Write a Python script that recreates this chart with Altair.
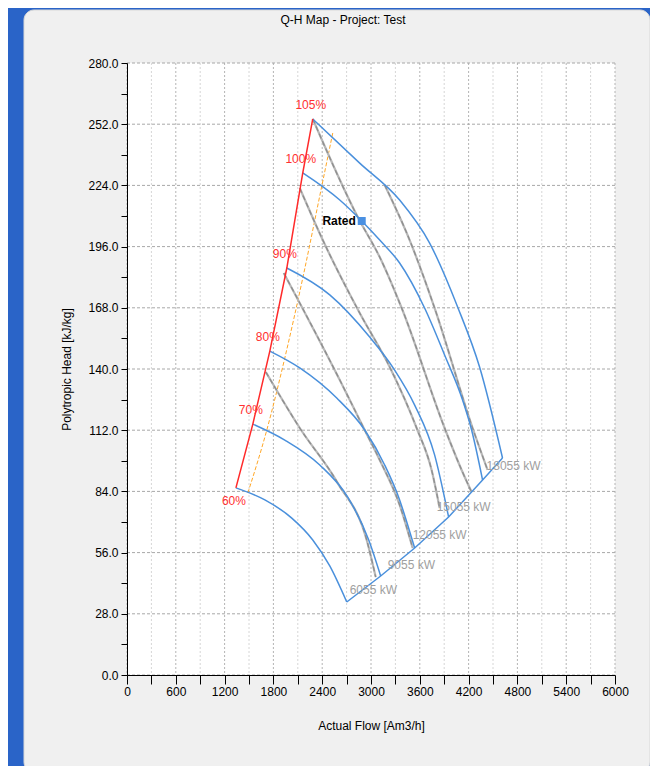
import altair as alt
import pandas as pd

# ---------------- data (flow Am3/h, polytropic head kJ/kg) ----------------
speed_names = ["60%", "70%", "80%", "90%", "100%", "105%"]
flow_60 = [1339, 1695, 2026, 2284, 2493, 2702]
head_60 = [85.6, 80.1, 71.8, 61.8, 49.9, 33.4]
flow_70 = [1547, 1940, 2370, 2714, 2972, 3119]
head_70 = [114.8, 107.5, 96.1, 81.4, 61.8, 45.3]
flow_80 = [1756, 2124, 2579, 2923, 3168, 3352, 3451, 3537]
head_80 = [148.2, 140.5, 126.7, 112.1, 96.1, 80.1, 68.6, 58.1]
flow_90 = [1965, 2493, 2984, 3291, 3537, 3782, 3954]
head_90 = [186.2, 173.9, 154.6, 139.5, 123.5, 100.7, 72.3]
flow_100 = [2161, 2616, 2886, 3107, 3352, 3659, 3905, 4126, 4237, 4372]
head_100 = [229.7, 217.3, 207.7, 199.0, 188.5, 167.9, 146.4, 125.8, 112.1, 89.2]
flow_105 = [2284, 2861, 3352, 3721, 4065, 4335, 4617]
head_105 = [254.4, 234.2, 217.3, 197.6, 168.4, 140.9, 99.3]

ctrl_flow = [1486, 1719, 1940, 2161, 2395, 2530]
ctrl_head = [83.3, 112.1, 145.0, 181.6, 223.7, 248.0]

gray_a_flow = [1707, 2124, 2591, 2947, 3058]
gray_a_head = [138.6, 113.0, 87.8, 61.8, 44.8]
gray_b_flow = [1928, 2616, 2910, 3107, 3352, 3512]
gray_b_head = [183.9, 135.0, 113.0, 98.4, 77.8, 58.1]
gray_c_flow = [2124, 2407, 2861, 3230, 3561, 3745, 3844]
gray_c_head = [222.8, 199.0, 165.6, 140.9, 113.0, 93.8, 76.4]
gray_d_flow = [2284, 2837, 3107, 3377, 3905, 4114, 4237]
gray_d_head = [254.4, 209.5, 191.2, 167.9, 113.0, 93.8, 83.7]
gray_e_flow = [3168, 3475, 3782, 4249, 4433]
gray_e_head = [224.2, 199.0, 167.9, 113.0, 93.8]

power_labels = ["6055 kW", "9055 kW", "12055 kW", "15055 kW", "18055 kW"]
power_label_flow = [2738, 3205, 3512, 3807, 4421]
power_label_head = [38.9, 50.3, 64.1, 76.9, 95.6]

rated_flow = [2886]
rated_head = [207.7]

x_ticks = list(range(0, 6001, 300))
y_ticks = [v * 14 for v in range(0, 21)]

FONT = "Liberation Sans, Arial, sans-serif"

# ---------------- tables ----------------
speed_flows = [flow_60, flow_70, flow_80, flow_90, flow_100, flow_105]
speed_heads = [head_60, head_70, head_80, head_90, head_100, head_105]
rows = []
for name, fl, hd in zip(speed_names, speed_flows, speed_heads):
    for i, (f, h) in enumerate(zip(fl, hd)):
        rows.append({"speed": name, "i": i, "flow": f, "head": h})
speed_df = pd.DataFrame(rows)

surge_df = pd.DataFrame({"flow": [f[0] for f in speed_flows],
                         "head": [h[0] for h in speed_heads],
                         "label": speed_names,
                         "i": range(len(speed_names))})
choke_df = pd.DataFrame({"flow": [f[-1] for f in speed_flows],
                         "head": [h[-1] for h in speed_heads],
                         "i": range(len(speed_names))})
ctrl_df = pd.DataFrame({"flow": ctrl_flow, "head": ctrl_head, "i": range(len(ctrl_flow))})

grows = []
for name, fl, hd in [("a", gray_a_flow, gray_a_head), ("b", gray_b_flow, gray_b_head),
                     ("c", gray_c_flow, gray_c_head), ("d", gray_d_flow, gray_d_head),
                     ("e", gray_e_flow, gray_e_head)]:
    for i, (f, h) in enumerate(zip(fl, hd)):
        grows.append({"line": name, "i": i, "flow": f, "head": h})
gray_df = pd.DataFrame(grows)

plabel_df = pd.DataFrame({"flow": power_label_flow, "head": power_label_head, "label": power_labels})
rated_df = pd.DataFrame({"flow": rated_flow, "head": rated_head, "label": ["Rated"]})

xgrid_df = pd.DataFrame({"flow": x_ticks, "major": [v % 600 == 0 for v in x_ticks]})
ygrid_df = pd.DataFrame({"head": [v for v in y_ticks if v % 28 == 0]})

xs = alt.Scale(domain=[0, 6000], nice=False, zero=False)
ys = alt.Scale(domain=[0, 280], nice=False, zero=False)

x_axis = alt.Axis(values=x_ticks, labelExpr="datum.value % 600 === 0 ? datum.label : ''",
                  format="d", grid=False, tickSize=9, tickColor="#000", domainColor="#000",
                  labelColor="#000", labelFont=FONT, labelFontSize=12, labelFlush=False,
                  labelOverlap=False, labelPadding=2, zindex=1,
                  title="Actual Flow [Am3/h]", titleFont=FONT, titleFontSize=12,
                  titleFontWeight="normal", titleColor="#000", titleX=244, titleY=50,
                  titleBaseline="middle", titleAlign="center")
y_axis = alt.Axis(values=y_ticks, labelExpr="datum.value % 28 === 0 ? datum.label : ''",
                  format=".1f", grid=False, tickSize=6, tickColor="#000", domainColor="#000",
                  labelColor="#000", labelFont=FONT, labelFontSize=12, labelFlush=False,
                  labelOverlap=False, labelPadding=3, zindex=1,
                  title="Polytropic Head [kJ/kg]", titleFont=FONT, titleFontSize=12,
                  titleFontWeight="normal", titleColor="#000", titleX=-61, titleY=306,
                  titleBaseline="middle", titleAlign="center", titleAngle=-90)

X = alt.X("flow:Q", scale=xs, axis=x_axis)
Y = alt.Y("head:Q", scale=ys, axis=y_axis)

one = alt.Data(values=[{"k": 1}])

panel = alt.Chart(one).mark_rect(fill="#f0f0f0", stroke="#d8d8d8", cornerRadius=10).encode(
    x=alt.value(-103), x2=alt.value(523), y=alt.value(-53), y2=alt.value(709))
plot_bg = alt.Chart(one).mark_rect(fill="#ffffff").encode(
    x=alt.value(0), x2=alt.value(488), y=alt.value(0), y2=alt.value(612))
title = alt.Chart(one).mark_text(text="Q-H Map - Project: Test", font=FONT, fontSize=12,
                                 color="#000", align="center", baseline="middle").encode(
    x=alt.value(216), y=alt.value(-43))

xgrid_minor = alt.Chart(xgrid_df).transform_filter("!datum.major").mark_rule(
    color="#d6d6d6", strokeDash=[2, 2], strokeWidth=1).encode(x=X)
xgrid_major = alt.Chart(xgrid_df).transform_filter("datum.major").mark_rule(
    color="#b4b4b4", strokeDash=[2, 2], strokeWidth=1).encode(x=X)
ygrid = alt.Chart(ygrid_df).mark_rule(color="#a8a8a8", strokeDash=[3, 2], strokeWidth=1).encode(y=Y)

ctrl = alt.Chart(ctrl_df).mark_line(color="#ffa726", strokeDash=[4, 2], strokeWidth=1,
                                    interpolate="monotone").encode(x=X, y=Y, order="i:Q")

gray_base = alt.Chart(gray_df).mark_line(
    color="#b8b8b8", strokeWidth=2.2, interpolate="monotone").encode(
    x=X, y=Y, detail="line:N", order="i:Q")
gray_dash = alt.Chart(gray_df).mark_line(
    color="#8e8e8e", strokeWidth=1.3, strokeDash=[5, 3], interpolate="monotone").encode(
    x=X, y=Y, detail="line:N", order="i:Q")

speed = alt.Chart(speed_df).mark_line(color="#4a90dc", strokeWidth=1.5,
                                      interpolate="monotone").encode(
    x=X, y=Y, detail="speed:N", order="i:Q")
choke = alt.Chart(choke_df).mark_line(color="#4a90dc", strokeWidth=1.5).encode(
    x=X, y=Y, order="i:Q")
surge = alt.Chart(surge_df).mark_line(color="#ff2a2a", strokeWidth=1.5).encode(
    x=X, y=Y, order="i:Q")

pct_up = alt.Chart(surge_df).transform_filter("datum.label != '60%'").mark_text(
    color="#ff3030", font=FONT, fontSize=12, dy=-14, dx=-2).encode(x=X, y=Y, text="label:N")
pct_dn = alt.Chart(surge_df).transform_filter("datum.label == '60%'").mark_text(
    color="#ff3030", font=FONT, fontSize=12, dy=13, dx=-2).encode(x=X, y=Y, text="label:N")

plabels = alt.Chart(plabel_df).mark_text(color="#a0a0a0", font=FONT, fontSize=12,
                                         align="left", baseline="middle").encode(
    x=X, y=Y, text="label:N")

rated_pt = alt.Chart(rated_df).mark_square(color="#4a90e2", size=64, opacity=1).encode(x=X, y=Y)
rated_txt = alt.Chart(rated_df).mark_text(font=FONT, fontSize=12, fontWeight="bold", color="#000",
                                          align="right", baseline="middle", dx=-6).encode(
    x=X, y=Y, text="label:N")

chart = alt.layer(
    panel, plot_bg, title, xgrid_minor, xgrid_major, ygrid, ctrl, gray_base, gray_dash,
    speed, choke, surge, pct_up, pct_dn, plabels, rated_pt, rated_txt
).properties(
    width=488, height=612, autosize="none",
    padding={"left": 119, "top": 55, "right": 35, "bottom": 91},
).configure(background="#2a64c8").configure_view(stroke=None)

chart.save("out.html", embed_options={"renderer": "svg", "actions": False})
